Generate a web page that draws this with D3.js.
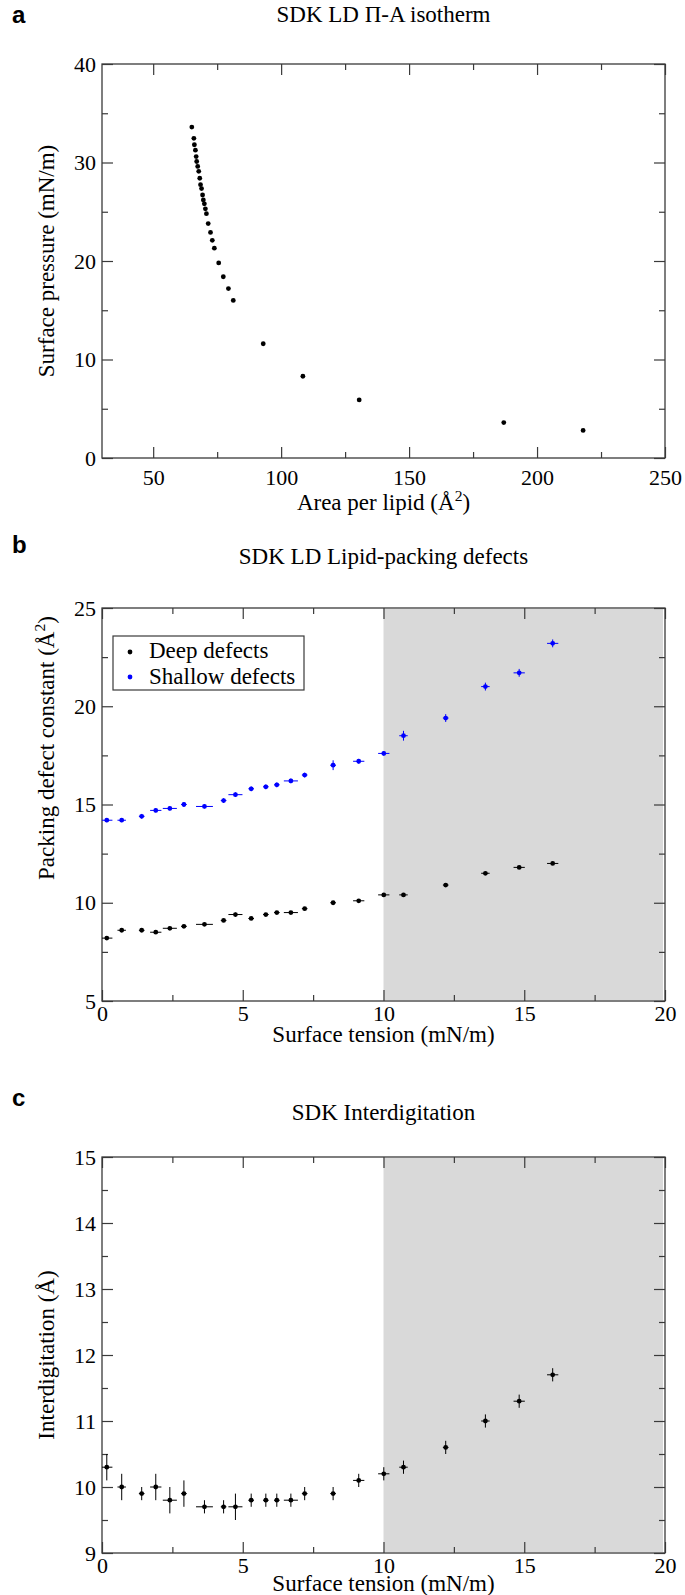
<!DOCTYPE html>
<html><head><meta charset="utf-8">
<script src="https://cdn.jsdelivr.net/npm/d3@7"></script>
<style>body{margin:0;background:#fff} svg{display:block}</style>
</head><body>
<svg id="chart" width="685" height="1595"></svg>
<script>
// ---- Panel a data ----
const areaPerLipid = [65.1, 65.9, 66.1, 66.5, 66.8, 67.0, 67.4, 67.8, 68.2, 68.5, 68.9, 69.3, 69.6, 70.0, 70.4, 70.8, 71.5, 72.4, 73.1, 73.9, 75.6, 77.4, 79.4, 81.3, 93.0, 108.5, 130.5, 187.0, 218.0];
const surfacePressure = [33.6, 32.45, 31.8, 31.25, 30.6, 30.1, 29.6, 29.1, 28.4, 27.75, 27.35, 26.7, 26.2, 25.8, 25.3, 24.8, 23.8, 22.9, 22.1, 21.3, 19.8, 18.4, 17.2, 16.0, 11.6, 8.3, 5.9, 3.6, 2.8];

// ---- Panels b & c data ----
const surfaceTension = [0.17, 0.7, 1.41, 1.91, 2.41, 2.91, 3.64, 4.32, 4.74, 5.3, 5.82, 6.21, 6.71, 7.2, 8.21, 9.12, 10.01, 10.71, 12.21, 13.62, 14.82, 16.01];
const tensionErr = [0.2, 0.15, 0.1, 0.2, 0.25, 0.1, 0.3, 0.1, 0.25, 0.1, 0.1, 0.1, 0.25, 0.1, 0.1, 0.2, 0.2, 0.15, 0.1, 0.15, 0.2, 0.2];
const deepDefects = [8.2, 8.6, 8.6, 8.5, 8.7, 8.8, 8.9, 9.1, 9.4, 9.2, 9.4, 9.5, 9.5, 9.7, 10.0, 10.1, 10.4, 10.4, 10.9, 11.5, 11.8, 12.0];
const deepErr = [0.08, 0.08, 0.08, 0.08, 0.08, 0.08, 0.08, 0.08, 0.1, 0.08, 0.08, 0.08, 0.08, 0.08, 0.08, 0.08, 0.08, 0.08, 0.08, 0.08, 0.08, 0.08];
const shallowDefects = [14.2, 14.2, 14.4, 14.7, 14.8, 15.0, 14.9, 15.2, 15.5, 15.8, 15.9, 16.0, 16.2, 16.5, 17.0, 17.2, 17.6, 18.5, 19.4, 21.0, 21.7, 23.2];
const shallowErr = [0.1, 0.1, 0.12, 0.1, 0.1, 0.12, 0.1, 0.12, 0.12, 0.12, 0.12, 0.12, 0.12, 0.12, 0.25, 0.12, 0.12, 0.25, 0.2, 0.2, 0.2, 0.2];
const interdigitation = [10.3, 10.0, 9.9, 10.0, 9.8, 9.9, 9.7, 9.7, 9.7, 9.8, 9.8, 9.8, 9.8, 9.9, 9.9, 10.1, 10.2, 10.3, 10.6, 11.0, 11.3, 11.7];
const interdigErr = [0.2, 0.2, 0.1, 0.2, 0.2, 0.2, 0.1, 0.1, 0.2, 0.1, 0.1, 0.1, 0.1, 0.1, 0.1, 0.1, 0.1, 0.1, 0.1, 0.1, 0.1, 0.1];

// ---- Ticks ----
const areaMajor = [50, 100, 150, 200, 250];
const areaMinor = [75, 125, 175, 225];
const pressureMajor = [0, 10, 20, 30, 40];
const pressureMinor = [5, 15, 25, 35];
const tensionMajor = [0, 5, 10, 15, 20];
const tensionMinor = [2.5, 7.5, 12.5, 17.5];
const defectMajor = [5, 10, 15, 20, 25];
const defectMinor = [7.5, 12.5, 17.5, 22.5];
const interMajor = [9, 10, 11, 12, 13, 14, 15];
const interMinor = [9.5, 10.5, 11.5, 12.5, 13.5, 14.5];

const legendLabels = ["Deep defects", "Shallow defects"];
const legendColors = ["#000000", "#0000ff"];

const svg = d3.select('#chart');
const SERIF = "'Liberation Serif','Times New Roman',Times,serif";
const SANS = "'Liberation Sans',Arial,Helvetica,sans-serif";
const FRAME = "#3a3a3a";
const L = 102, R = 665;

function addSup(textSel, before, sup, after) {
  textSel.append('tspan').text(before);
  textSel.append('tspan').attr('dy', '-0.55em').attr('font-size', '0.68em').text(sup);
  textSel.append('tspan').attr('dy', '0.37em').text(after);
}

function panel(o) {
  const g = svg.append('g');
  const x = d3.scaleLinear().domain(o.xDomain).range([L, R]);
  const y = d3.scaleLinear().domain(o.yDomain).range([o.bottom, o.top]);
  const id = 'clip' + o.letter;
  svg.append('clipPath').attr('id', id).append('rect')
    .attr('x', L).attr('y', o.top).attr('width', R - L).attr('height', o.bottom - o.top);

  if (o.shade) {
    g.append('rect').attr('x', x(o.shade[0])).attr('y', o.top + 1)
      .attr('width', x(o.shade[1]) - x(o.shade[0]) - 2).attr('height', o.bottom - o.top - 2)
      .attr('fill', '#d9d9d9');
  }

  function ax(axisFn, pos, vals, size, labels) {
    const horiz = (axisFn === d3.axisBottom || axisFn === d3.axisTop);
    const a = axisFn(horiz ? x : y)
      .tickValues(vals).tickSize(size).tickPadding(horiz ? o.xPad : 6)
      .tickFormat(labels ? (d => String(d)) : '');
    const gg = g.append('g').attr('transform', pos).call(a);
    gg.select('.domain').remove();
    gg.selectAll('line').attr('stroke', FRAME).attr('stroke-width', 1.2);
    gg.selectAll('text').attr('font-family', SERIF).attr('font-size', 22).attr('fill', '#000');
    return gg;
  }
  ax(d3.axisBottom, `translate(0,${o.bottom})`, o.xMajor, -11, true);
  ax(d3.axisBottom, `translate(0,${o.bottom})`, o.xMinor, -6, false);
  ax(d3.axisTop, `translate(0,${o.top})`, o.xMajor, -11, false);
  ax(d3.axisTop, `translate(0,${o.top})`, o.xMinor, -6, false);
  ax(d3.axisLeft, `translate(${L},0)`, o.yMajor, -11, true);
  ax(d3.axisLeft, `translate(${L},0)`, o.yMinor, -6, false);
  ax(d3.axisRight, `translate(${R},0)`, o.yMajor, -11, false);
  ax(d3.axisRight, `translate(${R},0)`, o.yMinor, -6, false);

  g.append('rect').attr('x', L).attr('y', o.top).attr('width', R - L).attr('height', o.bottom - o.top)
    .attr('fill', 'none').attr('stroke', FRAME).attr('stroke-width', 1.3);

  const dg = g.append('g').attr('clip-path', `url(#${id})`);
  o.series.forEach(s => {
    const pts = s.xs.map((v, i) => ({x: v, y: s.ys[i], ex: s.xe ? s.xe[i] : 0, ey: s.ye ? s.ye[i] : 0}));
    if (s.xe) {
      dg.selectAll(null).data(pts).enter().append('line')
        .attr('x1', d => x(d.x - d.ex)).attr('x2', d => x(d.x + d.ex))
        .attr('y1', d => y(d.y)).attr('y2', d => y(d.y))
        .attr('stroke', s.color).attr('stroke-width', 1);
    }
    if (s.ye) {
      dg.selectAll(null).data(pts).enter().append('line')
        .attr('x1', d => x(d.x)).attr('x2', d => x(d.x))
        .attr('y1', d => y(d.y - d.ey)).attr('y2', d => y(d.y + d.ey))
        .attr('stroke', s.color).attr('stroke-width', 1);
    }
    dg.selectAll(null).data(pts).enter().append('circle')
      .attr('cx', d => x(d.x)).attr('cy', d => y(d.y)).attr('r', s.r || 2.4)
      .attr('fill', s.color);
  });

  svg.append('text').attr('x', (L + R) / 2).attr('y', o.titleY).attr('text-anchor', 'middle')
    .attr('font-family', SERIF).attr('font-size', 23).text(o.title);
  svg.append('text').attr('x', 12).attr('y', o.letterY).attr('font-family', SANS)
    .attr('font-weight', 'bold').attr('font-size', 24).text(o.letter);
  const xt = svg.append('text').attr('x', (L + R) / 2).attr('y', o.xTitleY).attr('text-anchor', 'middle')
    .attr('font-family', SERIF).attr('font-size', 23);
  if (o.xTitleSup) addSup(xt, o.xTitle[0], o.xTitle[1], o.xTitle[2]); else xt.text(o.xTitle);
  const yt = svg.append('text').attr('transform', `translate(54,${o.yTitleC}) rotate(-90)`)
    .attr('text-anchor', 'middle').attr('font-family', SERIF).attr('font-size', 23);
  if (o.yTitleSup) addSup(yt, o.yTitle[0], o.yTitle[1], o.yTitle[2]); else yt.text(o.yTitle);
  return {x, y, g};
}

// Panel a
panel({
  letter: 'a', letterY: 23, title: 'SDK LD \u03A0-A isotherm', titleY: 22,
  top: 64, bottom: 458, xDomain: [30, 250], yDomain: [0, 40], xPad: 11,
  xMajor: areaMajor, xMinor: areaMinor, yMajor: pressureMajor, yMinor: pressureMinor,
  xTitle: ['Area per lipid (\u00C5', '2', ')'], xTitleSup: true, xTitleY: 510,
  yTitle: 'Surface pressure (mN/m)', yTitleC: 261,
  series: [{xs: areaPerLipid, ys: surfacePressure, color: '#000'}]
});

// Panel b
panel({
  letter: 'b', letterY: 553, title: 'SDK LD Lipid-packing defects', titleY: 564,
  top: 608, bottom: 1001, xDomain: [0, 20], yDomain: [5, 25], shade: [10, 20], xPad: 4,
  xMajor: tensionMajor, xMinor: tensionMinor, yMajor: defectMajor, yMinor: defectMinor,
  xTitle: 'Surface tension (mN/m)', xTitleY: 1042,
  yTitle: ['Packing defect constant (\u00C5', '2', ')'], yTitleSup: true, yTitleC: 748,
  series: [
    {xs: surfaceTension, ys: deepDefects, xe: tensionErr, ye: deepErr, color: legendColors[0]},
    {xs: surfaceTension, ys: shallowDefects, xe: tensionErr, ye: shallowErr, color: legendColors[1]}
  ]
});
const lg = svg.append('g');
lg.append('rect').attr('x', 113).attr('y', 636).attr('width', 191).attr('height', 54)
  .attr('fill', '#fff').attr('stroke', FRAME).attr('stroke-width', 1.2);
legendLabels.forEach((lab, i) => {
  lg.append('circle').attr('cx', 130).attr('cy', 652 + i * 25).attr('r', 2.4).attr('fill', legendColors[i]);
  lg.append('text').attr('x', 149).attr('y', 658 + i * 26).attr('font-family', SERIF)
    .attr('font-size', 23).text(lab);
});

// Panel c
panel({
  letter: 'c', letterY: 1106, title: 'SDK Interdigitation', titleY: 1120,
  top: 1157, bottom: 1553, xDomain: [0, 20], yDomain: [9, 15], shade: [10, 20], xPad: 4,
  xMajor: tensionMajor, xMinor: tensionMinor, yMajor: interMajor, yMinor: interMinor,
  xTitle: 'Surface tension (mN/m)', xTitleY: 1591,
  yTitle: 'Interdigitation (\u00C5)', yTitleC: 1355,
  series: [{xs: surfaceTension, ys: interdigitation, xe: tensionErr, ye: interdigErr, color: '#000'}]
});
</script>
</body></html>
